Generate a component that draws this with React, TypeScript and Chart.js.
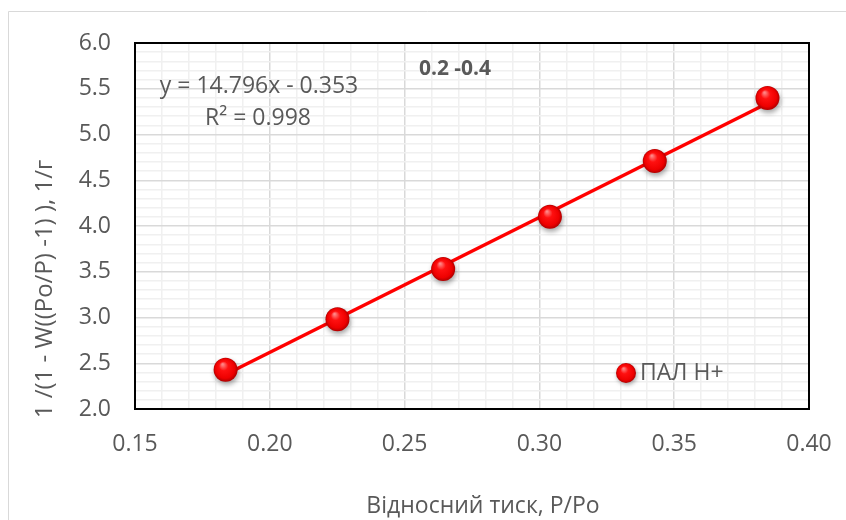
import React, { useEffect, useRef } from 'react';
import { Chart, registerables } from 'chart.js';

Chart.register(...registerables);

// ---- data ----
const pressure = [0.1836, 0.2251, 0.2643, 0.3039, 0.3428, 0.3846];
const inverseValue = [2.43, 2.98, 3.53, 4.10, 4.71, 5.40];
const seriesName = 'ПАЛ Н+';
const chartTitle = '0.2 -0.4';
const equationText = 'y = 14.796x - 0.353';
const rSquaredText = 'R² = 0.998';
const xTitle = 'Відносний тиск, P/Po';
const yTitle = '1 /(1 - W((Po/P) -1) ), 1/г';
const xRange = [0.15, 0.4];
const yRange = [2.0, 6.0];
const xMajorStep = 0.05;
const xMinorStep = 0.01;
const yMajorStep = 0.5;
const yMinorStep = 0.1;

const FONT = '"Open Sans", "DejaVu Sans", sans-serif';
const TEXT = '#595959';

function isMajor(v: number, step: number) {
  const q = v / step;
  return Math.abs(q - Math.round(q)) < 1e-6;
}

function linearFit(xs: number[], ys: number[]) {
  const n = xs.length;
  const mx = xs.reduce((a, b) => a + b, 0) / n;
  const my = ys.reduce((a, b) => a + b, 0) / n;
  let sxy = 0;
  let sxx = 0;
  for (let i = 0; i < n; i++) {
    sxy += (xs[i] - mx) * (ys[i] - my);
    sxx += (xs[i] - mx) * (xs[i] - mx);
  }
  const slope = sxy / sxx;
  return { slope, intercept: my - slope * mx };
}

function sphereFill(ctx: CanvasRenderingContext2D, cx: number, cy: number, r: number) {
  const g = ctx.createRadialGradient(cx - r * 0.25, cy - r * 0.45, r * 0.05, cx, cy, r);
  g.addColorStop(0, '#ff8585');
  g.addColorStop(0.35, '#ff1010');
  g.addColorStop(0.8, '#ee0000');
  g.addColorStop(1, '#b00000');
  return g;
}

const overlayPlugin = {
  id: 'overlay',
  beforeDraw(chart: any) {
    const ctx = chart.ctx as CanvasRenderingContext2D;
    ctx.save();
    ctx.fillStyle = '#ffffff';
    ctx.fillRect(0, 0, chart.width, chart.height);
    ctx.strokeStyle = '#d9d9d9';
    ctx.lineWidth = 1;
    ctx.beginPath();
    ctx.moveTo(8.5, chart.height);
    ctx.lineTo(8.5, 11.5);
    ctx.lineTo(chart.width, 11.5);
    ctx.stroke();
    ctx.restore();
  },
  beforeDatasetsDraw(chart: any) {
    const ctx = chart.ctx as CanvasRenderingContext2D;
    const a = chart.chartArea;
    ctx.save();
    ctx.strokeStyle = '#000000';
    ctx.lineWidth = 2;
    ctx.strokeRect(a.left, a.top, a.right - a.left, a.bottom - a.top);
    ctx.restore();
  },
  beforeDatasetDraw(chart: any, args: any) {
    if (args.index === 0) {
      const ctx = chart.ctx as CanvasRenderingContext2D;
      ctx.save();
      ctx.shadowColor = 'rgba(0,0,0,0.35)';
      ctx.shadowBlur = 5;
      ctx.shadowOffsetX = 1;
      ctx.shadowOffsetY = 3;
    }
  },
  afterDatasetDraw(chart: any, args: any) {
    if (args.index === 0) {
      chart.ctx.restore();
    }
  },
  afterDraw(chart: any) {
    const ctx = chart.ctx as CanvasRenderingContext2D;
    ctx.save();
    ctx.fillStyle = TEXT;
    ctx.textBaseline = 'middle';
    ctx.textAlign = 'center';

    ctx.font = `23px ${FONT}`;
    ctx.fillText(equationText, 259, 86);
    ctx.fillText(rSquaredText, 258, 118);

    ctx.font = `bold 21px ${FONT}`;
    ctx.fillText(chartTitle, 455, 69);

    ctx.font = `23px ${FONT}`;
    ctx.fillText(xTitle, 483, 506);

    ctx.save();
    ctx.font = `24px ${FONT}`;
    ctx.translate(45, 289);
    ctx.rotate(-Math.PI / 2);
    ctx.fillText(yTitle, 0, 0);
    ctx.restore();

    // legend
    const lx = 626;
    const ly = 373;
    const lr = 10;
    ctx.save();
    ctx.shadowColor = 'rgba(0,0,0,0.35)';
    ctx.shadowBlur = 4;
    ctx.shadowOffsetX = 1;
    ctx.shadowOffsetY = 2;
    ctx.fillStyle = sphereFill(ctx, lx, ly, lr);
    ctx.beginPath();
    ctx.arc(lx, ly, lr, 0, Math.PI * 2);
    ctx.fill();
    ctx.restore();
    ctx.font = `23px ${FONT}`;
    ctx.textAlign = 'left';
    ctx.fillStyle = TEXT;
    ctx.fillText(seriesName, 640, ly);
    ctx.restore();
  },
};

export default function App() {
  const ref = useRef<HTMLCanvasElement | null>(null);

  useEffect(() => {
    const canvas = ref.current;
    if (!canvas) return;
    const points = pressure.map((x, i) => ({ x, y: inverseValue[i] }));
    const fit = linearFit(pressure, inverseValue);
    const x0 = Math.min(...pressure);
    const x1 = Math.max(...pressure);
    const trend = [
      { x: x0, y: fit.slope * x0 + fit.intercept },
      { x: x1, y: fit.slope * x1 + fit.intercept },
    ];

    const chart = new Chart(canvas, {
      type: 'scatter',
      data: {
        datasets: [
          {
            label: seriesName,
            data: points,
            order: 0,
            pointRadius: 12,
            pointHoverRadius: 12,
            pointBorderWidth: 0,
            borderWidth: 0,
            backgroundColor: (c: any) => {
              const ch = c.chart;
              const raw = c.raw;
              if (!raw || !ch.scales || !ch.scales.x || !ch.scales.y) return '#ff0000';
              const px = ch.scales.x.getPixelForValue(raw.x);
              const py = ch.scales.y.getPixelForValue(raw.y);
              if (!Number.isFinite(px) || !Number.isFinite(py)) return '#ff0000';
              return sphereFill(ch.ctx, px, py, 12);
            },
          },
          {
            label: 'trend',
            type: 'line',
            data: trend,
            order: 1,
            borderColor: '#ff0000',
            borderWidth: 3.5,
            pointRadius: 0,
            fill: false,
            tension: 0,
          } as any,
        ],
      },
      options: {
        responsive: false,
        animation: false,
        devicePixelRatio: 1,
        layout: { padding: { left: 0, top: 43, right: 37, bottom: 0 } },
        plugins: {
          legend: { display: false },
          tooltip: { enabled: false },
          title: { display: false },
        },
        scales: {
          x: {
            type: 'linear',
            min: xRange[0],
            max: xRange[1],
            afterFit: (s: any) => {
              s.height = 111;
              s.paddingLeft = 0;
              s.paddingRight = 0;
            },
            border: { display: false },
            grid: {
              drawTicks: false,
              color: (c: any) => (c.tick && isMajor(c.tick.value, xMajorStep) ? '#d9d9d9' : '#f0f0f0'),
              lineWidth: 1.5,
            },
            ticks: {
              stepSize: xMinorStep,
              autoSkip: false,
              maxRotation: 0,
              padding: 22,
              color: TEXT,
              font: { family: FONT, size: 23 },
              callback: (v: any) => (isMajor(Number(v), xMajorStep) ? Number(v).toFixed(2) : ''),
            },
          },
          y: {
            type: 'linear',
            min: yRange[0],
            max: yRange[1],
            afterFit: (s: any) => {
              s.width = 135;
            },
            border: { display: false },
            grid: {
              drawTicks: false,
              color: (c: any) => (c.tick && isMajor(c.tick.value, yMajorStep) ? '#d9d9d9' : '#f0f0f0'),
              lineWidth: 1.5,
            },
            ticks: {
              stepSize: yMinorStep,
              autoSkip: false,
              padding: 24,
              color: TEXT,
              font: { family: FONT, size: 23 },
              callback: (v: any) => (isMajor(Number(v), yMajorStep) ? Number(v).toFixed(1) : ''),
            },
          },
        },
      },
      plugins: [overlayPlugin],
    } as any);

    return () => chart.destroy();
  }, []);

  return (
    <div style={{ position: 'fixed', left: 0, top: 0, width: 846, height: 520, background: '#fff' }}>
      <canvas ref={ref} width={846} height={520} style={{ display: 'block', width: 846, height: 520 }} />
    </div>
  );
}
